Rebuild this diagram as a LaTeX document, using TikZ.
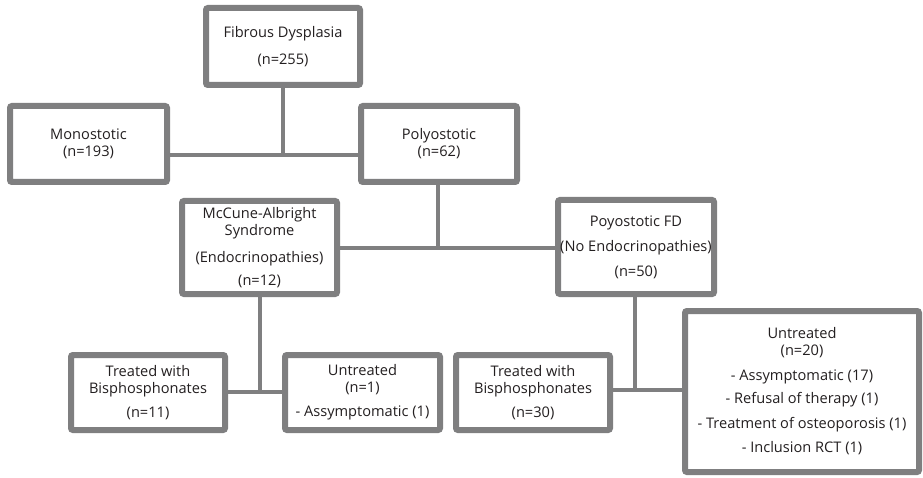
\documentclass[tikz,border=0pt]{standalone}
\usepackage{fontspec}
\setmainfont{Open Sans}
\usetikzlibrary{shadows}
\definecolor{boxgray}{HTML}{7F7F80}
\definecolor{textdark}{HTML}{231F20}
\tikzset{
    fdbox/.style={draw=boxgray, line width=6pt, rounded corners=2pt, fill=white,
        align=center, text=textdark, inner sep=0pt,
        font=\fontsize{14.6}{17}\selectfont,
        drop shadow={opacity=0.25, shadow xshift=1.5pt, shadow yshift=-1.5pt}},
    link/.style={draw=boxgray, line width=4pt}
}
\begin{document}
\begin{tikzpicture}[x=1pt, y=-1pt]
            \useasboundingbox (0,0) rectangle (923,478);

            \node[fdbox, minimum width=154pt, minimum height=77pt] (fd) at (283,46.5) {Fibrous Dysplasia\\[10pt](n=255)};

            \node[fdbox, minimum width=157pt, minimum height=76pt] (mono) at (88.5,144) {Monostotic\\(n=193)};
            \node[fdbox, minimum width=156pt, minimum height=76pt] (poly) at (439,144) {Polyostotic\\(n=62)};

            \node[fdbox, minimum width=155pt, minimum height=93pt] (mas) at (259.5,247.5) {McCune-Albright\\Syndrome\\[10pt](Endocrinopathies)\\[6pt](n=12)};
            \node[fdbox, minimum width=156pt, minimum height=94pt] (pfd) at (636,247) {Poyostotic FD\\[8pt](No Endocrinopathies)\\[8pt](n=50)};

            \node[fdbox, minimum width=154pt, minimum height=75pt] (treat1) at (148,392.5) {Treated with\\Bisphosphonates\\[7pt](n=11)};
            \node[fdbox, minimum width=155pt, minimum height=75pt] (untr1) at (362.5,392.5) {Untreated\\(n=1)\\[7pt]- Assymptomatic (1)};
            \node[fdbox, minimum width=154pt, minimum height=75pt] (treat2) at (533,392.5) {Treated with\\Bisphosphonates\\[7pt](n=30)};
            \node[fdbox, minimum width=234pt, minimum height=161pt] (untr2) at (802,391.5) {Untreated\\(n=20)\\[8pt]- Assymptomatic (17)\\[6pt]- Refusal of therapy (1)\\[8pt]- Treatment of osteoporosis (1)\\[7pt]- Inclusion RCT (1)};

            % junctions
            \coordinate (j1) at (283,155);
            \coordinate (j2) at (438,248);
            \coordinate (j3) at (260,392);
            \coordinate (j4) at (635,390);

            \draw[link] (fd.south) -- (j1);
            \draw[link] (mono.east |- j1) -- (poly.west |- j1);

            \draw[link] (poly.south -| j2) -- (j2);
            \draw[link] (mas.east |- j2) -- (pfd.west |- j2);

            \draw[link] (mas.south -| j3) -- (j3);
            \draw[link] (treat1.east |- j3) -- (untr1.west |- j3);

            \draw[link] (pfd.south -| j4) -- (j4);
            \draw[link] (treat2.east |- j4) -- (untr2.west |- j4);
\end{tikzpicture}
\end{document}
